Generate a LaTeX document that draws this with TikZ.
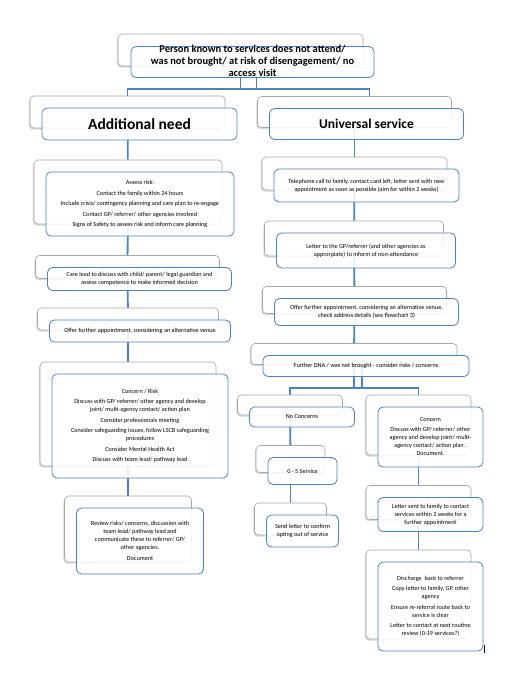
\documentclass[tikz,border=0pt]{standalone}
\usepackage{fontspec}
\setmainfont{Carlito}
\usepackage{tikz}
\usetikzlibrary{shadows,backgrounds,calc}
\definecolor{flowblue}{HTML}{4F81BD}
\definecolor{flowgrey}{HTML}{A6A6A6}
\tikzset{
  backbox/.style={draw=flowgrey, fill=white, rounded corners=4pt, line width=0.6pt, inner sep=0pt,
    drop shadow={shadow xshift=-1.2pt, shadow yshift=-1.6pt, opacity=0.3}},
  frontbox/.style={draw=flowblue, fill=white, fill opacity=0.88, text opacity=1, rounded corners=5pt,
    line width=0.8pt, align=center, inner sep=1pt, xshift=12pt, yshift=-12pt,
    font=\fontsize{6.2}{8}\selectfont},
  boxsize/.style 2 args={minimum width=#1, minimum height=#2},
  link/.style={draw=flowblue, line width=1.8pt}
}

\begin{document}
\begin{tikzpicture}[x=1pt, y=-1pt]
  \useasboundingbox (0,0) rectangle (532,677);

  % top of the chart
  \node[backbox, boxsize={245pt}{32pt}] (topbk) at (240.5,50) {};
  \node[frontbox, boxsize={243pt}{31pt}, font=\fontsize{10.5}{12}\selectfont\bfseries] (top) at (topbk)
    {\raisebox{-2.6pt}[0pt][0pt]{\begin{tabular}{@{}c@{}}Person known to services does not attend/\\ was not brought/ at risk of disengagement/ no\\ access visit\end{tabular}}};

  \node[backbox, boxsize={195pt}{32pt}] (addbk) at (127.5,112) {};
  \node[frontbox, boxsize={195pt}{32pt}, font=\fontsize{15.5}{18}\selectfont\bfseries] (add) at (addbk) {Additional need};
  \node[backbox, boxsize={194pt}{31pt}] (unibk) at (354.5,112) {};
  \node[frontbox, boxsize={194pt}{31pt}, font=\fontsize{13.5}{16}\selectfont\bfseries] (uni) at (unibk) {Universal service};

  % additional need
  \node[backbox, boxsize={188pt}{64pt}] (riskbk) at (128,192) {};
  \node[frontbox, boxsize={188pt}{64pt}] (risk) at (riskbk) {Assess risk:\\[2.5pt]
    Contact the family within 24 hours\\[2.5pt]
    Include crisis/ contingency planning and care plan to re-engage\\[2.5pt]
    Contact GP/ referrer/ other agencies involved\\[2.5pt]
    Signs of Safety to assess risk and inform care planning};
  \node[backbox, boxsize={184pt}{23pt}] (carebk) at (127.5,267) {};
  \node[frontbox, boxsize={184pt}{23pt}] (care) at (carebk) {Care lead to discuss with child/ parent/ legal guardian and\\ assess competence to make informed decision};
  \node[backbox, boxsize={181pt}{22pt}] (offlbk) at (128,319) {};
  \node[frontbox, boxsize={181pt}{22pt}] (offl) at (offlbk) {Offer further appointment, considering an alternative venue};
  \node[backbox, boxsize={176pt}{104pt}] (concbk) at (128,414) {};
  \node[frontbox, boxsize={176pt}{104pt}] (conc) at (concbk) {Concern / Risk\\[2.5pt]
    Discuss with GP/ referrer/ other agency and develop\\ joint/ multi-agency contact/ action plan\\[2.5pt]
    Consider professionals meeting\\[2.5pt]
    Consider safeguarding issues, follow LSCB safeguarding\\ procedures\\[2.5pt]
    Consider Mental Health Act\\[2.5pt]
    Discuss with team lead/ pathway lead};
  \node[backbox, boxsize={127pt}{66pt}] (revbk) at (128,529) {};
  \node[frontbox, boxsize={127pt}{66pt}] (rev) at (revbk) {Review risks/ concerns, discussion with\\ team lead/ pathway lead and\\ communicate these to referrer/ GP/\\ other agencies.\\[2.5pt] Document};

  % universal service
  \node[backbox, boxsize={185pt}{33pt}] (telbk) at (354.5,173.5) {};
  \node[frontbox, boxsize={185pt}{33pt}] (tel) at (telbk) {Telephone call to family, contact card left, letter sent with new\\ appointment as soon as possible (aim for within 2 weeks)};
  \node[backbox, boxsize={179pt}{35pt}] (gpbk) at (354,238.5) {};
  \node[frontbox, boxsize={179pt}{35pt}] (gp) at (gpbk) {Letter to the GP/referrer (and other agencies as\\ approrpiate) to inform of non-attendance};
  \node[backbox, boxsize={184pt}{27pt}] (offrbk) at (354.5,300) {};
  \node[frontbox, boxsize={184pt}{27pt}] (offr) at (offrbk) {Offer further appointment, considering an alternative venue,\\ check address details (see flowchart 3)};
  \node[backbox, boxsize={206pt}{21pt}] (dnabk) at (354,354) {};
  \node[frontbox, boxsize={206pt}{21pt}] (dna) at (dnabk) {Further DNA / was not brought - consider risks / concerns};

  \node[backbox, boxsize={105pt}{20pt}] (nocbk) at (290,405) {};
  \node[frontbox, boxsize={105pt}{20pt}] (noc) at (nocbk) {No Concerns};
  \node[backbox, boxsize={69pt}{27pt}] (zerobk) at (290.5,459) {};
  \node[frontbox, boxsize={69pt}{27pt}] (zero) at (zerobk) {0 - 5 Service};
  \node[backbox, boxsize={72pt}{32pt}] (sendbk) at (290.5,519) {};
  \node[frontbox, boxsize={72pt}{32pt}] (send) at (sendbk) {Send letter to confirm\\ opting out of service};

  \node[backbox, boxsize={105pt}{60pt}] (conrbk) at (418.5,425) {};
  \node[frontbox, boxsize={105pt}{60pt}] (conr) at (conrbk) {Concern\\[2pt] Discuss with GP/ referrer/ other\\ agency and develop joint/ multi-\\ agency contact/ action plan .\\ Document.};
  \node[backbox, boxsize={105pt}{34pt}] (lettbk) at (418.5,502.5) {};
  \node[frontbox, boxsize={105pt}{34pt}] (lett) at (lettbk) {Letter sent to family to contact\\ services within 3 weeks for a\\ further appointment};
  \node[backbox, boxsize={105pt}{89pt}] (disbk) at (418.5,594.5) {};
  \node[frontbox, boxsize={105pt}{89pt}] (dis) at (disbk) {Discharge\ \ back to referrer\\[2.5pt]
    Copy letter to family, GP, other\\ agency\\[2.5pt]
    Ensure re-referral route back to\\ service is clear\\[2.5pt]
    Letter to contact at next routine\\ review (0-19 services?)};

  \draw[line width=0.6pt] (484,645) -- (484,653);

  \begin{scope}[on background layer]
    \draw[link] (topbk.south) -- ++(0,23) coordinate (topjoin);
    \draw[link] ($(topbk.south)+(16,0)$) -- ++(0,23);
    \draw[link] (addbk.north) |- (topjoin) -| ($(unibk.north)+(15,0)$);
    \draw[link] (addbk) -- (riskbk);
    \draw[link] (riskbk) -- (carebk);
    \draw[link] (carebk) -- (offlbk);
    \draw[link] (offlbk) -- (concbk);
    \draw[link] (concbk) -- (revbk);
    \draw[link] (unibk) -- (telbk);
    \draw[link] (telbk) -- (gpbk);
    \draw[link] (gpbk) -- (offrbk);
    \draw[link] (offrbk) -- (dnabk);
    \draw[link] (dnabk.south) -- ++(0,23.5) coordinate (dnajoin);
    \draw[link] ($(dnabk.south)+(8,0)$) -- ++(0,23.5);
    \draw[link] (nocbk.north) |- (dnajoin) -| (conrbk.north);
    \draw[link] (nocbk) -- (zerobk);
    \draw[link] (zerobk) -- (sendbk);
    \draw[link] (conrbk) -- (lettbk);
    \draw[link] (lettbk) -- (disbk);
  \end{scope}
\end{tikzpicture}
\end{document}
